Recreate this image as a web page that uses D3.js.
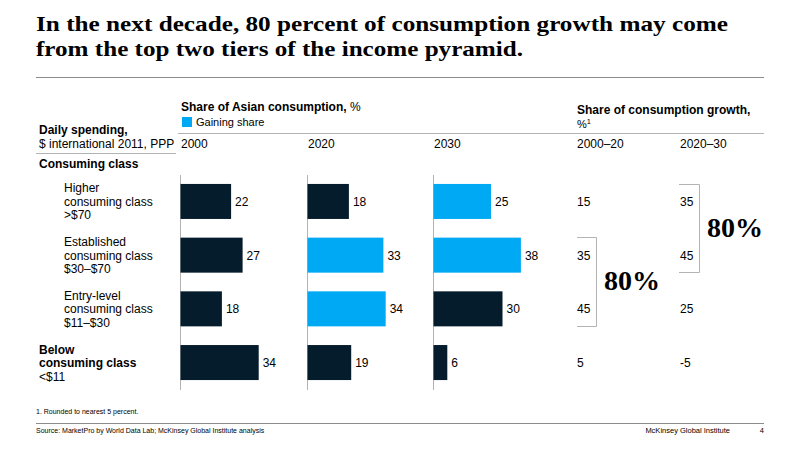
<!DOCTYPE html>
<html><head><meta charset="utf-8">
<script src="https://cdn.jsdelivr.net/npm/d3@7"></script>
<style>
body{margin:0;background:#fff;}
text{font-family:"Liberation Sans",Arial,sans-serif;fill:#000;}
</style></head>
<body>
<svg id="c" width="800" height="450"></svg>
<script>
const titleLines = ["In the next decade, 80 percent of consumption growth may come","from the top two tiers of the income pyramid."];
const rowLabels = [
  {lines:["Higher","consuming  class",">$70"], bold:[false,false,false], x:64},
  {lines:["Established","consuming  class","$30–$70"], bold:[false,false,false], x:64},
  {lines:["Entry-level","consuming  class","$11–$30"], bold:[false,false,false], x:64},
  {lines:["Below","consuming class","<$11"], bold:[true,true,false], x:39}
];
const categories = ["Higher","Established","Entry-level","Below"];
const years = ["2000","2020","2030"];
const share2000 = [22,27,18,34];
const share2020 = [18,33,34,19];
const share2030 = [25,38,30,6];
const gaining2000 = [false,false,false,false];
const gaining2020 = [false,true,true,false];
const gaining2030 = [true,true,false,false];
const growthPeriods = ["2000–20","2020–30"];
const growth2000_20 = [15,35,45,5];
const growth2020_30 = [35,45,25,-5];

const navy="#051c2c", cyan="#00a9f4", grey="#b3b3b3";
const svg=d3.select("#c");

// Title
const titleW=[692,487], titleY=[31,56];
titleLines.forEach((t,i)=>{
  svg.append("text").attr("x",36).attr("y",titleY[i])
    .attr("textLength",titleW[i]).attr("lengthAdjust","spacingAndGlyphs")
    .style("font-family","'Liberation Serif','DejaVu Serif',serif").style("font-weight","bold").style("font-size","21.5px").text(t);
});
svg.append("line").attr("x1",36).attr("x2",764).attr("y1",77.5).attr("y2",77.5).attr("stroke","#8c8c8c").attr("stroke-width",1);

// headers
svg.append("text").attr("x",181).attr("y",111).style("font-size","12px").style("font-weight","bold").text("Share of Asian consumption, ").append("tspan").style("font-weight","normal").text("%");
svg.append("rect").attr("x",182).attr("y",117).attr("width",10).attr("height",10).attr("fill",cyan);
svg.append("text").attr("x",196).attr("y",126).style("font-size","11px").text("Gaining share");
svg.append("text").attr("x",577).attr("y",114).style("font-size","12px").style("font-weight","bold").text("Share of consumption growth,");
const pct=svg.append("text").attr("x",577).attr("y",128).style("font-size","11px").text("%");
pct.append("tspan").attr("dy",-4).style("font-size","7.5px").text("1");
svg.append("line").attr("x1",178).attr("x2",764).attr("y1",133.5).attr("y2",133.5).attr("stroke",grey);

svg.append("text").attr("x",39).attr("y",134).style("font-size","12px").style("font-weight","bold").text("Daily spending,");
svg.append("text").attr("x",39).attr("y",148).style("font-size","12px").text("$ international  2011, PPP");
svg.append("line").attr("x1",36).attr("x2",176).attr("y1",153.5).attr("y2",153.5).attr("stroke",grey);
svg.append("text").attr("x",39).attr("y",168).style("font-size","12px").style("font-weight","bold").text("Consuming class");

const colX = {"2000":180,"2020":307,"2030":433};
years.forEach(y=>{
  svg.append("text").attr("x",colX[y]+1).attr("y",148).style("font-size","12px").text(y);
});
const growthX=[577,680];
growthPeriods.forEach((p,i)=>{
  svg.append("text").attr("x",growthX[i]).attr("y",148).style("font-size","12px").text(p);
});

// scales
const yScale=d3.scaleBand().domain(categories).range([174.6,389.4]).paddingInner(0.348).paddingOuter(0.174);
const xScale=d3.scaleLinear().domain([0,40]).range([0,92]);

// row labels
rowLabels.forEach((r,i)=>{
  const cy=yScale(categories[i])+yScale.bandwidth()/2;
  r.lines.forEach((l,j)=>{
    svg.append("text").attr("x",r.x).attr("y",cy-13.5+j*13.5+4.5)
      .style("font-size","12px").style("font-weight",r.bold[j]?"bold":"normal").text(l);
  });
});

const series=[["2000",share2000,gaining2000],["2020",share2020,gaining2020],["2030",share2030,gaining2030]];
series.forEach(([yr,vals,gain])=>{
  const x0=colX[yr];
  svg.append("line").attr("x1",x0+0.5).attr("x2",x0+0.5).attr("y1",175).attr("y2",390).attr("stroke",grey);
  const g=svg.append("g").attr("transform",`translate(${x0+0.5},0)`);
  g.selectAll("rect").data(vals).join("rect")
    .attr("x",0).attr("y",(d,i)=>yScale(categories[i]))
    .attr("width",d=>xScale(d)).attr("height",yScale.bandwidth())
    .attr("fill",(d,i)=>gain[i]?cyan:navy);
  g.selectAll("text").data(vals).join("text")
    .attr("x",d=>xScale(d)+4).attr("y",(d,i)=>yScale(categories[i])+yScale.bandwidth()/2+4.5)
    .style("font-size","12px").text(d=>d);
});

[growth2000_20,growth2020_30].forEach((vals,k)=>{
  svg.selectAll(null).data(vals).join("text")
    .attr("x",growthX[k]).attr("y",(d,i)=>yScale(categories[i])+yScale.bandwidth()/2+4.5)
    .style("font-size","12px").text(d=>d);
});

// brackets
function bracket(x1,x2,yTop,yBot,lx,ly){
  svg.append("path").attr("d",`M${x1},${yTop}H${x2}V${yBot}H${x1}`).attr("fill","none").attr("stroke",grey);
  svg.append("text").attr("x",lx).attr("y",ly).style("font-family","'Liberation Serif','DejaVu Serif',serif")
    .style("font-weight","bold").style("font-size","28px").text("80%");
}
bracket(577,596.5,237.5,326.5,604,290);
bracket(679,699.5,184.5,272.5,707,237);

// footer
svg.append("text").attr("x",36).attr("y",414).style("font-size","7px").text("1.    Rounded  to  nearest  5  percent.");
svg.append("line").attr("x1",36).attr("x2",764).attr("y1",423.5).attr("y2",423.5).attr("stroke","#8c8c8c");
svg.append("text").attr("x",36).attr("y",433).style("font-size","7px").text("Source: MarketPro by World Data Lab; McKinsey Global Institute analysis");
svg.append("text").attr("x",730).attr("y",433).attr("text-anchor","end").style("font-size","7.5px").text("McKinsey Global Institute");
svg.append("text").attr("x",764).attr("y",433).attr("text-anchor","end").style("font-size","7.5px").text("4");
</script>
</body></html>
